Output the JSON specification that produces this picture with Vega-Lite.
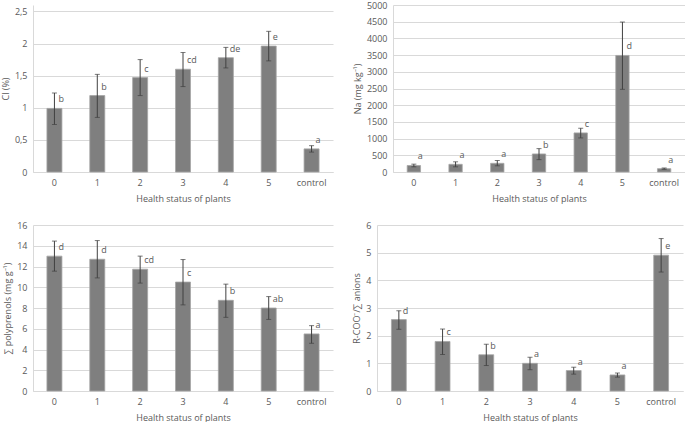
{
  "$schema": "https://vega.github.io/schema/vega-lite/v6.json",
  "padding": {"left": 1, "top": 1, "right": 0, "bottom": 0},
  "background": "white",
  "datasets": {
    "cl": [
      {"cat": "0", "value": 0.99, "lo": 0.74, "hi": 1.23, "letter": "b"},
      {"cat": "1", "value": 1.19, "lo": 0.85, "hi": 1.52, "letter": "b"},
      {"cat": "2", "value": 1.47, "lo": 1.19, "hi": 1.75, "letter": "c"},
      {"cat": "3", "value": 1.60, "lo": 1.33, "hi": 1.86, "letter": "cd"},
      {"cat": "4", "value": 1.78, "lo": 1.62, "hi": 1.94, "letter": "de"},
      {"cat": "5", "value": 1.96, "lo": 1.73, "hi": 2.19, "letter": "e"},
      {"cat": "control", "value": 0.36, "lo": 0.31, "hi": 0.41, "letter": "a"}
    ],
    "na": [
      {"cat": "0", "value": 195, "lo": 155, "hi": 235, "letter": "a"},
      {"cat": "1", "value": 230, "lo": 155, "hi": 305, "letter": "a"},
      {"cat": "2", "value": 260, "lo": 185, "hi": 345, "letter": "a"},
      {"cat": "3", "value": 540, "lo": 370, "hi": 700, "letter": "b"},
      {"cat": "4", "value": 1170, "lo": 1020, "hi": 1310, "letter": "c"},
      {"cat": "5", "value": 3490, "lo": 2475, "hi": 4490, "letter": "d"},
      {"cat": "control", "value": 100, "lo": 80, "hi": 120, "letter": "a"}
    ],
    "poly": [
      {"cat": "0", "value": 13.0, "lo": 11.55, "hi": 14.45, "letter": "d"},
      {"cat": "1", "value": 12.7, "lo": 10.9, "hi": 14.5, "letter": "d"},
      {"cat": "2", "value": 11.74, "lo": 10.4, "hi": 13.0, "letter": "cd"},
      {"cat": "3", "value": 10.5, "lo": 8.3, "hi": 12.67, "letter": "c"},
      {"cat": "4", "value": 8.74, "lo": 7.1, "hi": 10.3, "letter": "b"},
      {"cat": "5", "value": 8.0, "lo": 6.9, "hi": 9.1, "letter": "ab"},
      {"cat": "control", "value": 5.5, "lo": 4.6, "hi": 6.3, "letter": "a"}
    ],
    "rcoo": [
      {"cat": "0", "value": 2.58, "lo": 2.23, "hi": 2.9, "letter": "d"},
      {"cat": "1", "value": 1.79, "lo": 1.32, "hi": 2.24, "letter": "c"},
      {"cat": "2", "value": 1.31, "lo": 0.92, "hi": 1.69, "letter": "b"},
      {"cat": "3", "value": 1.0, "lo": 0.77, "hi": 1.22, "letter": "a"},
      {"cat": "4", "value": 0.74, "lo": 0.61, "hi": 0.86, "letter": "a"},
      {"cat": "5", "value": 0.58, "lo": 0.5, "hi": 0.65, "letter": "a"},
      {"cat": "control", "value": 4.91, "lo": 4.3, "hi": 5.51, "letter": "e"}
    ]
  },
  "vconcat": [
    {
      "hconcat": [
        {
          "width": 300, "height": 167,
          "data": {"name": "cl"},
          "encoding": {"x": {"field": "cat", "type": "nominal", "sort": null, "scale": {"paddingInner": 0.65, "paddingOuter": 0.325}, "title": "Health status of plants"}},
          "layer": [
            {"mark": {"type": "bar", "color": "#7f7f7f", "stroke": "#a6a6a6", "strokeWidth": 0.8}, "encoding": {"y": {"field": "value", "type": "quantitative", "title": "Cl (%)", "scale": {"domain": [0, 2.5]}, "axis": {"values": [0, 0.5, 1, 1.5, 2, 2.5], "labelExpr": "replace(format(datum.value, '~g'), '.', ',')"}}}},
            {"mark": {"type": "rule", "color": "#404040"}, "encoding": {"y": {"field": "lo", "type": "quantitative", "title": "Cl (%)", "axis": {"values": [0, 0.5, 1, 1.5, 2, 2.5], "labelExpr": "replace(format(datum.value, '~g'), '.', ',')"}}, "y2": {"field": "hi"}}},
            {"mark": {"type": "tick", "color": "#404040", "size": 5, "thickness": 1}, "encoding": {"y": {"field": "hi", "type": "quantitative", "title": "Cl (%)", "axis": {"values": [0, 0.5, 1, 1.5, 2, 2.5], "labelExpr": "replace(format(datum.value, '~g'), '.', ',')"}}}},
            {"mark": {"type": "tick", "color": "#404040", "size": 5, "thickness": 1}, "encoding": {"y": {"field": "lo", "type": "quantitative", "title": "Cl (%)", "axis": {"values": [0, 0.5, 1, 1.5, 2, 2.5], "labelExpr": "replace(format(datum.value, '~g'), '.', ',')"}}}},
            {"mark": {"type": "text", "align": "left", "dx": 4, "dy": -9, "fontSize": 9, "color": "#595959", "font": "Open Sans"}, "encoding": {"y": {"field": "value", "type": "quantitative", "title": "Cl (%)", "axis": {"values": [0, 0.5, 1, 1.5, 2, 2.5], "labelExpr": "replace(format(datum.value, '~g'), '.', ',')"}}, "text": {"field": "letter"}}}
          ]
        },
        {
          "width": 292, "height": 167,
          "data": {"name": "na"},
          "encoding": {"x": {"field": "cat", "type": "nominal", "sort": null, "scale": {"paddingInner": 0.68, "paddingOuter": 0.34}, "title": "Health status of plants"}},
          "layer": [
            {"mark": {"type": "bar", "color": "#7f7f7f", "stroke": "#a6a6a6", "strokeWidth": 0.8}, "encoding": {"y": {"field": "value", "type": "quantitative", "title": "Na (mg kg⁻¹)", "scale": {"domain": [0, 5000]}, "axis": {"values": [0, 500, 1000, 1500, 2000, 2500, 3000, 3500, 4000, 4500, 5000], "format": "d"}}}},
            {"mark": {"type": "rule", "color": "#404040"}, "encoding": {"y": {"field": "lo", "type": "quantitative", "title": "Na (mg kg⁻¹)", "axis": {"values": [0, 500, 1000, 1500, 2000, 2500, 3000, 3500, 4000, 4500, 5000], "format": "d"}}, "y2": {"field": "hi"}}},
            {"mark": {"type": "tick", "color": "#404040", "size": 5, "thickness": 1}, "encoding": {"y": {"field": "hi", "type": "quantitative", "title": "Na (mg kg⁻¹)", "axis": {"values": [0, 500, 1000, 1500, 2000, 2500, 3000, 3500, 4000, 4500, 5000], "format": "d"}}}},
            {"mark": {"type": "tick", "color": "#404040", "size": 5, "thickness": 1}, "encoding": {"y": {"field": "lo", "type": "quantitative", "title": "Na (mg kg⁻¹)", "axis": {"values": [0, 500, 1000, 1500, 2000, 2500, 3000, 3500, 4000, 4500, 5000], "format": "d"}}}},
            {"mark": {"type": "text", "align": "left", "dx": 4, "dy": -9, "fontSize": 9, "color": "#595959", "font": "Open Sans"}, "encoding": {"y": {"field": "value", "type": "quantitative", "title": "Na (mg kg⁻¹)", "axis": {"values": [0, 500, 1000, 1500, 2000, 2500, 3000, 3500, 4000, 4500, 5000], "format": "d"}}, "text": {"field": "letter"}}}
          ]
        }
      ],
      "spacing": 20
    },
    {
      "hconcat": [
        {
          "width": 300, "height": 166,
          "data": {"name": "poly"},
          "encoding": {"x": {"field": "cat", "type": "nominal", "sort": null, "scale": {"paddingInner": 0.65, "paddingOuter": 0.325}, "title": "Health status of plants"}},
          "layer": [
            {"mark": {"type": "bar", "color": "#7f7f7f", "stroke": "#a6a6a6", "strokeWidth": 0.8}, "encoding": {"y": {"field": "value", "type": "quantitative", "title": "∑ polyprenols (mg g⁻¹)", "scale": {"domain": [0, 16]}, "axis": {"values": [0, 2, 4, 6, 8, 10, 12, 14, 16]}}}},
            {"mark": {"type": "rule", "color": "#404040"}, "encoding": {"y": {"field": "lo", "type": "quantitative", "title": "∑ polyprenols (mg g⁻¹)", "axis": {"values": [0, 2, 4, 6, 8, 10, 12, 14, 16]}}, "y2": {"field": "hi"}}},
            {"mark": {"type": "tick", "color": "#404040", "size": 5, "thickness": 1}, "encoding": {"y": {"field": "hi", "type": "quantitative", "title": "∑ polyprenols (mg g⁻¹)", "axis": {"values": [0, 2, 4, 6, 8, 10, 12, 14, 16]}}}},
            {"mark": {"type": "tick", "color": "#404040", "size": 5, "thickness": 1}, "encoding": {"y": {"field": "lo", "type": "quantitative", "title": "∑ polyprenols (mg g⁻¹)", "axis": {"values": [0, 2, 4, 6, 8, 10, 12, 14, 16]}}}},
            {"mark": {"type": "text", "align": "left", "dx": 4, "dy": -9, "fontSize": 9, "color": "#595959", "font": "Open Sans"}, "encoding": {"y": {"field": "value", "type": "quantitative", "title": "∑ polyprenols (mg g⁻¹)", "axis": {"values": [0, 2, 4, 6, 8, 10, 12, 14, 16]}}, "text": {"field": "letter"}}}
          ]
        },
        {
          "width": 306, "height": 166,
          "data": {"name": "rcoo"},
          "encoding": {"x": {"field": "cat", "type": "nominal", "sort": null, "scale": {"paddingInner": 0.66, "paddingOuter": 0.33}, "title": "Health status of plants"}},
          "layer": [
            {"mark": {"type": "bar", "color": "#7f7f7f", "stroke": "#a6a6a6", "strokeWidth": 0.8}, "encoding": {"y": {"field": "value", "type": "quantitative", "title": "R-COO⁻/∑ anions", "scale": {"domain": [0, 6]}, "axis": {"values": [0, 1, 2, 3, 4, 5, 6]}}}},
            {"mark": {"type": "rule", "color": "#404040"}, "encoding": {"y": {"field": "lo", "type": "quantitative", "title": "R-COO⁻/∑ anions", "axis": {"values": [0, 1, 2, 3, 4, 5, 6]}}, "y2": {"field": "hi"}}},
            {"mark": {"type": "tick", "color": "#404040", "size": 5, "thickness": 1}, "encoding": {"y": {"field": "hi", "type": "quantitative", "title": "R-COO⁻/∑ anions", "axis": {"values": [0, 1, 2, 3, 4, 5, 6]}}}},
            {"mark": {"type": "tick", "color": "#404040", "size": 5, "thickness": 1}, "encoding": {"y": {"field": "lo", "type": "quantitative", "title": "R-COO⁻/∑ anions", "axis": {"values": [0, 1, 2, 3, 4, 5, 6]}}}},
            {"mark": {"type": "text", "align": "left", "dx": 4, "dy": -9, "fontSize": 9, "color": "#595959", "font": "Open Sans"}, "encoding": {"y": {"field": "value", "type": "quantitative", "title": "R-COO⁻/∑ anions", "axis": {"values": [0, 1, 2, 3, 4, 5, 6]}}, "text": {"field": "letter"}}}
          ]
        }
      ],
      "spacing": 19
    }
  ],
  "spacing": 18,
  "config": {
    "view": {"stroke": null},
    "font": "Open Sans",
    "axis": {
      "labelFont": "Open Sans",
      "titleFont": "Open Sans",
      "labelFontSize": 9,
      "titleFontSize": 9,
      "titleFontWeight": "normal",
      "labelColor": "#595959",
      "titleColor": "#595959",
      "ticks": false,
      "domainColor": "#d9d9d9",
      "gridColor": "#d9d9d9",
      "labelPadding": 6
    },
    "axisX": {"labelAngle": 0, "grid": false, "labelPadding": 6, "titlePadding": 7},
    "axisY": {"grid": true, "titlePadding": 4}
  }
}
